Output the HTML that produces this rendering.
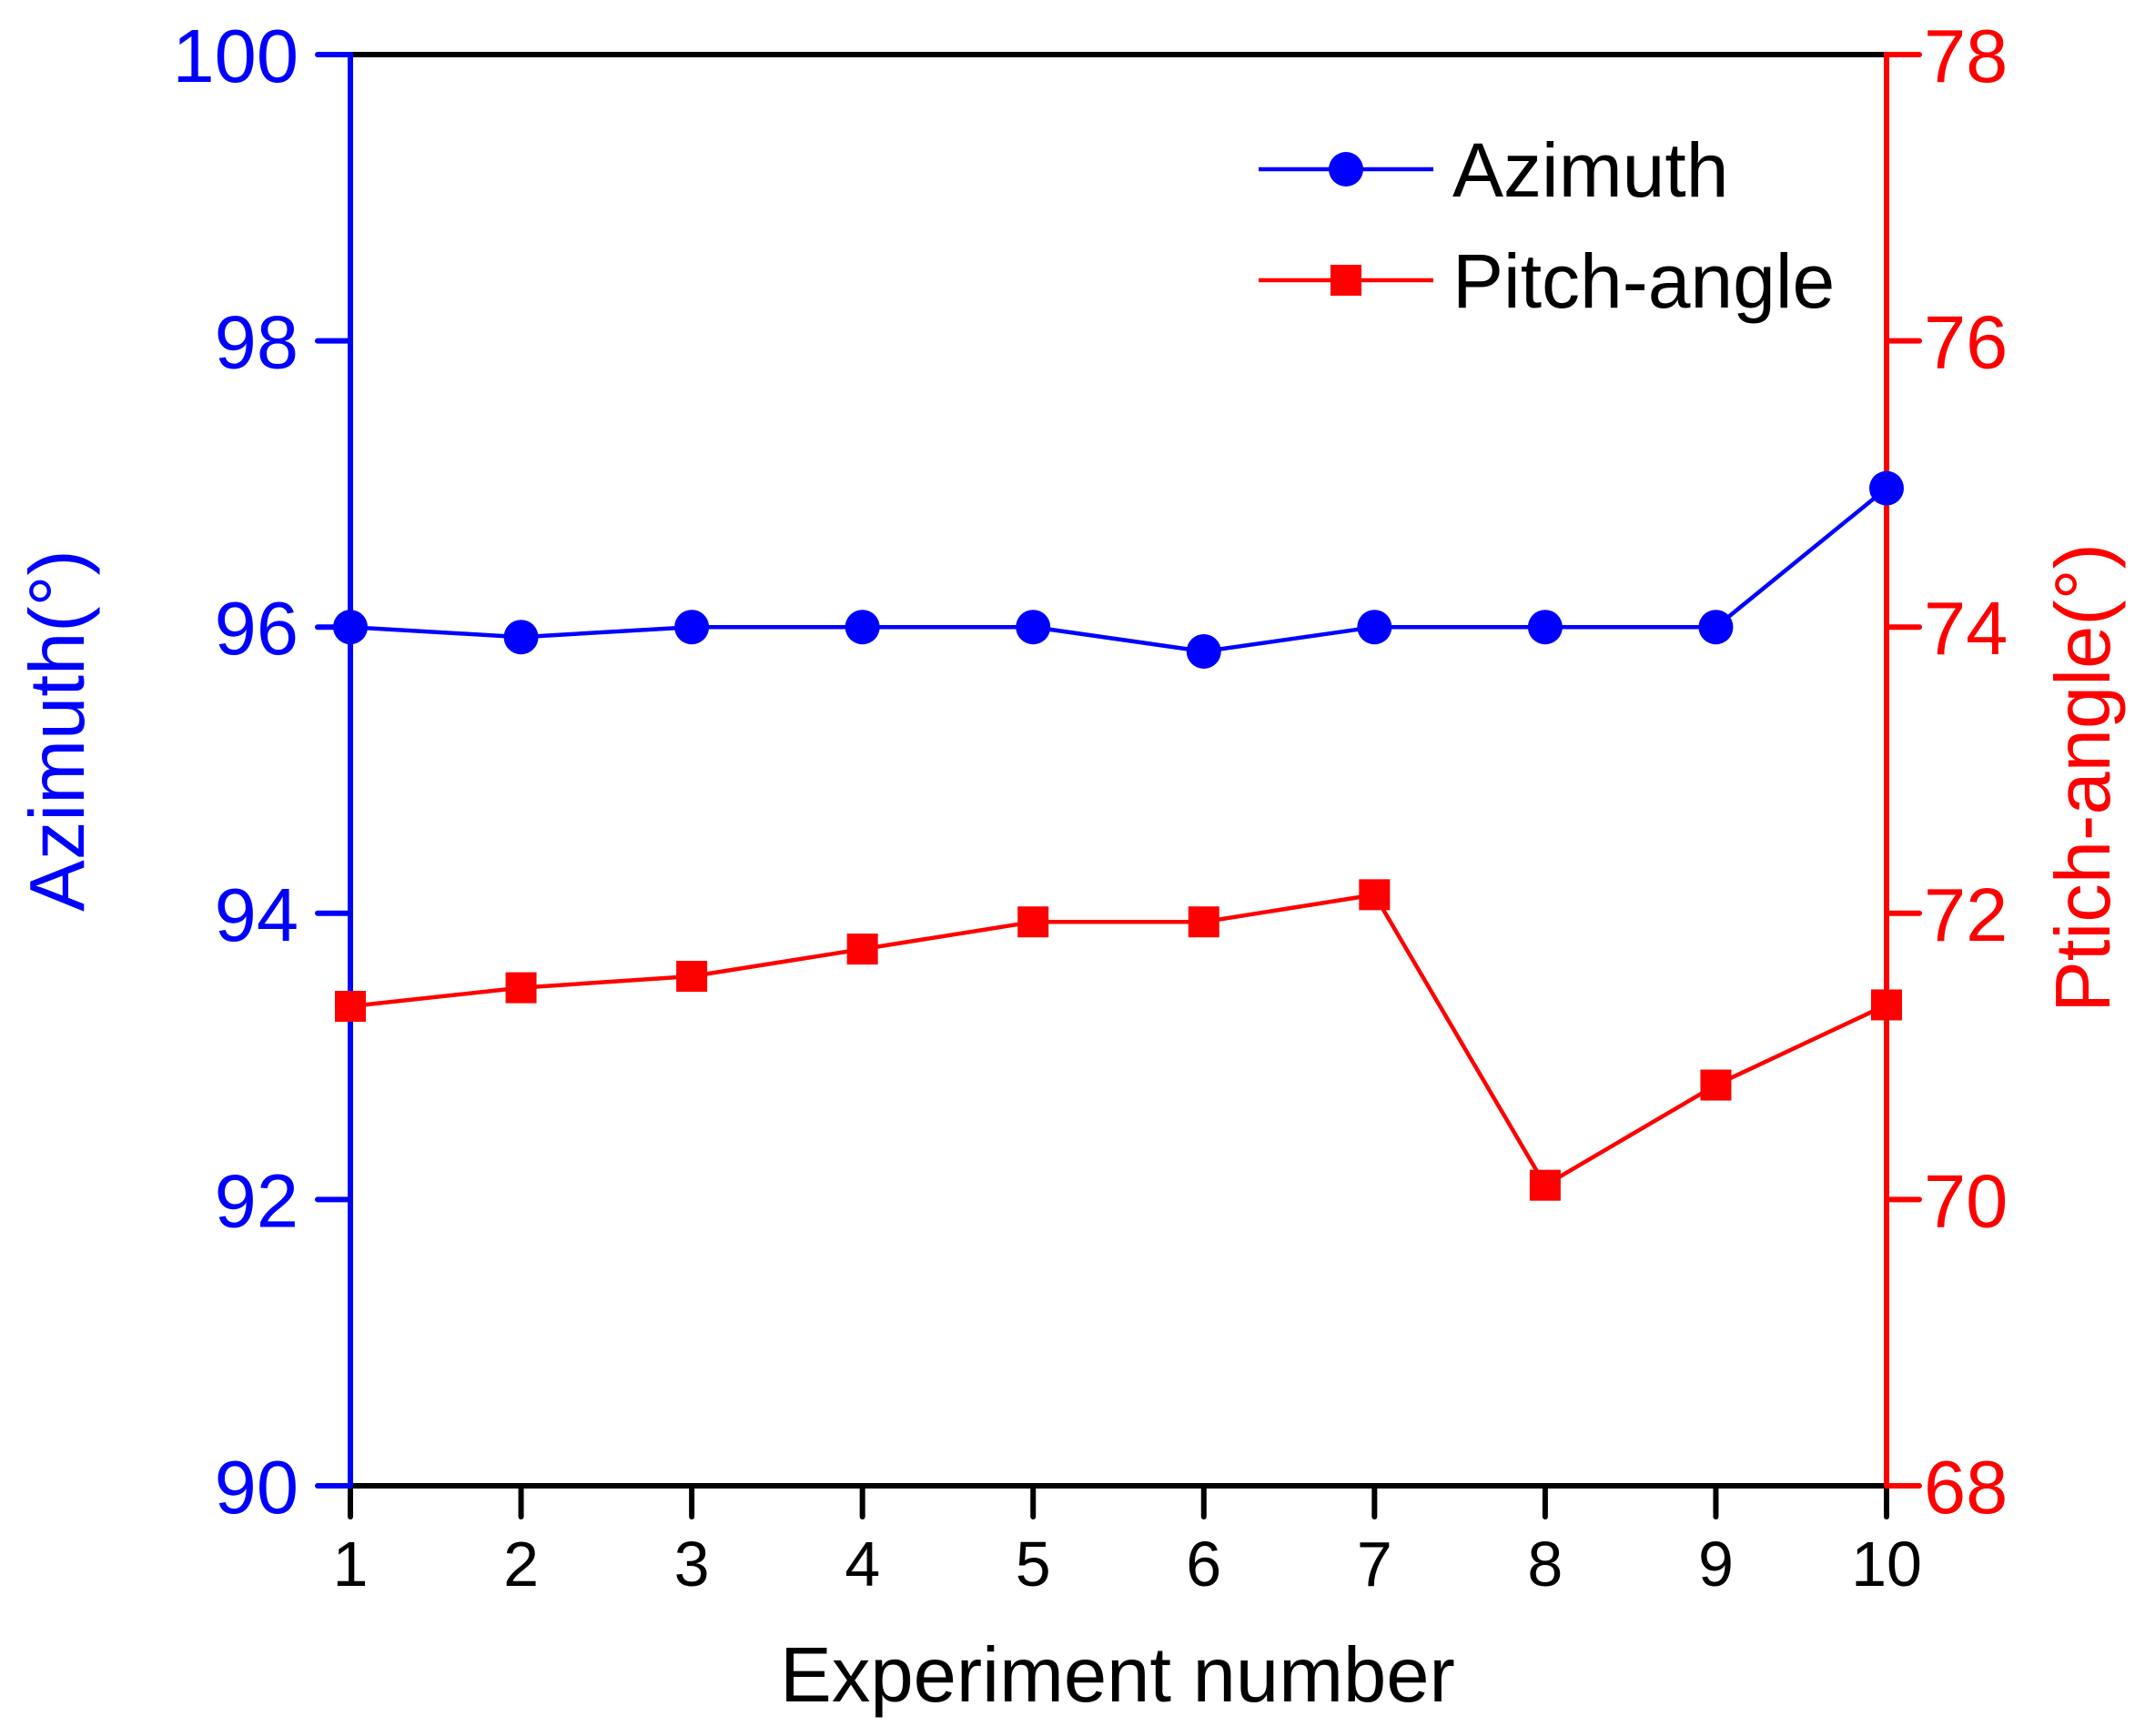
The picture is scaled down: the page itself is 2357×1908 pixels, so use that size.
<!DOCTYPE html>
<html><head><meta charset="utf-8"><style>
body{margin:0;background:#fff}
svg{display:block;font-family:"Liberation Sans",Arial,sans-serif}
</style></head><body>
<svg id="chart" width="2357" height="1908" viewBox="0 0 2357 1908" xmlns="http://www.w3.org/2000/svg"></svg>
<script>
const categories=[1,2,3,4,5,6,7,8,9,10];
const azimuth=[96.0,95.93,96.0,96.0,96.0,95.83,96.0,96.0,96.0,96.97];
const pitch=[71.35,71.48,71.56,71.75,71.94,71.94,72.13,70.1,70.8,71.36];
const leftTicks=[90,92,94,96,98,100];
const rightTicks=[68,70,72,74,76,78];
const svg=document.getElementById('chart');
const NS='http://www.w3.org/2000/svg';
const L=385,R=2073,T=60,B=1633;
const x=v=>L+(v-1)/9*(R-L);
const yl=v=>B-(v-90)/10*(B-T);
const yr=v=>B-(v-68)/10*(B-T);
function mk(tag,attrs,text){const e=document.createElementNS(NS,tag);for(const k in attrs)e.setAttribute(k,attrs[k]);if(text!==undefined)e.textContent=text;svg.appendChild(e);return e;}
let e;
e=mk('line',{x1:L,y1:T,x2:R,y2:T,stroke:'#000','stroke-width':6});


e=mk('line',{x1:L,y1:B,x2:R,y2:B,stroke:'#000','stroke-width':6});


e=mk('line',{x1:L,y1:T-3,x2:L,y2:B+3,stroke:'#0000ff','stroke-width':6});


e=mk('line',{x1:R,y1:T-3,x2:R,y2:B+3,stroke:'#ff0000','stroke-width':6});


categories.forEach(c=>{
  e=mk('line',{x1:x(c),y1:B,x2:x(c),y2:B+34,stroke:'#000','stroke-width':6,'stroke-linecap':'round'});
  
  
  e=mk('text',{x:x(c),y:B+110,'font-size':70,'text-anchor':'middle',fill:'#000'},c);
  
  
});
leftTicks.forEach(v=>{
  e=mk('line',{x1:L-36,y1:yl(v),x2:L,y2:yl(v),stroke:'#0000ff','stroke-width':6,'stroke-linecap':'round'});
  
  
  e=mk('text',{x:L-57,y:yl(v)+30,'font-size':83,'text-anchor':'end',fill:'#0000ff'},v);
  
  
});
rightTicks.forEach(v=>{
  e=mk('line',{x1:R,y1:yr(v),x2:R+36,y2:yr(v),stroke:'#ff0000','stroke-width':6,'stroke-linecap':'round'});
  
  
  e=mk('text',{x:R+41,y:yr(v)+30,'font-size':83,'text-anchor':'start',fill:'#ff0000'},v);
  
  
});
e=mk('text',{x:1228,y:1870,'font-size':85,'text-anchor':'middle',fill:'#000'},'Experiment number');


e=mk('text',{x:0,y:0,'font-size':85,'text-anchor':'middle',fill:'#0000ff',transform:'translate(92,803) rotate(-90)'},'Azimuth(°)');


e=mk('text',{x:0,y:0,'font-size':85,'text-anchor':'middle',fill:'#ff0000',transform:'translate(2318,855) rotate(-90)'},'Ptich-angle(°)');


e=mk('polyline',{points:categories.map((c,i)=>x(c)+','+yr(pitch[i])).join(' '),fill:'none',stroke:'#ff0000','stroke-width':4.5});


categories.forEach((c,i)=>{
  e=mk('rect',{x:x(c)-17,y:yr(pitch[i])-17,width:34,height:34,fill:'#ff0000'});
  
  
});
e=mk('polyline',{points:categories.map((c,i)=>x(c)+','+yl(azimuth[i])).join(' '),fill:'none',stroke:'#0000ff','stroke-width':4.5});


categories.forEach((c,i)=>{
  e=mk('circle',{cx:x(c),cy:yl(azimuth[i]),r:19,fill:'#0000ff'});
  
  
});
e=mk('line',{x1:1383,y1:186,x2:1575,y2:186,stroke:'#0000ff','stroke-width':4.5});


e=mk('circle',{cx:1479,cy:186,r:19,fill:'#0000ff'});


e=mk('text',{x:1596,y:216,'font-size':84,fill:'#000'},'Azimuth');


e=mk('line',{x1:1383,y1:308,x2:1575,y2:308,stroke:'#ff0000','stroke-width':4.5});


e=mk('rect',{x:1462,y:291,width:34,height:34,fill:'#ff0000'});


e=mk('text',{x:1596,y:338,'font-size':84,fill:'#000'},'Pitch-angle');


</script>
</body></html>
